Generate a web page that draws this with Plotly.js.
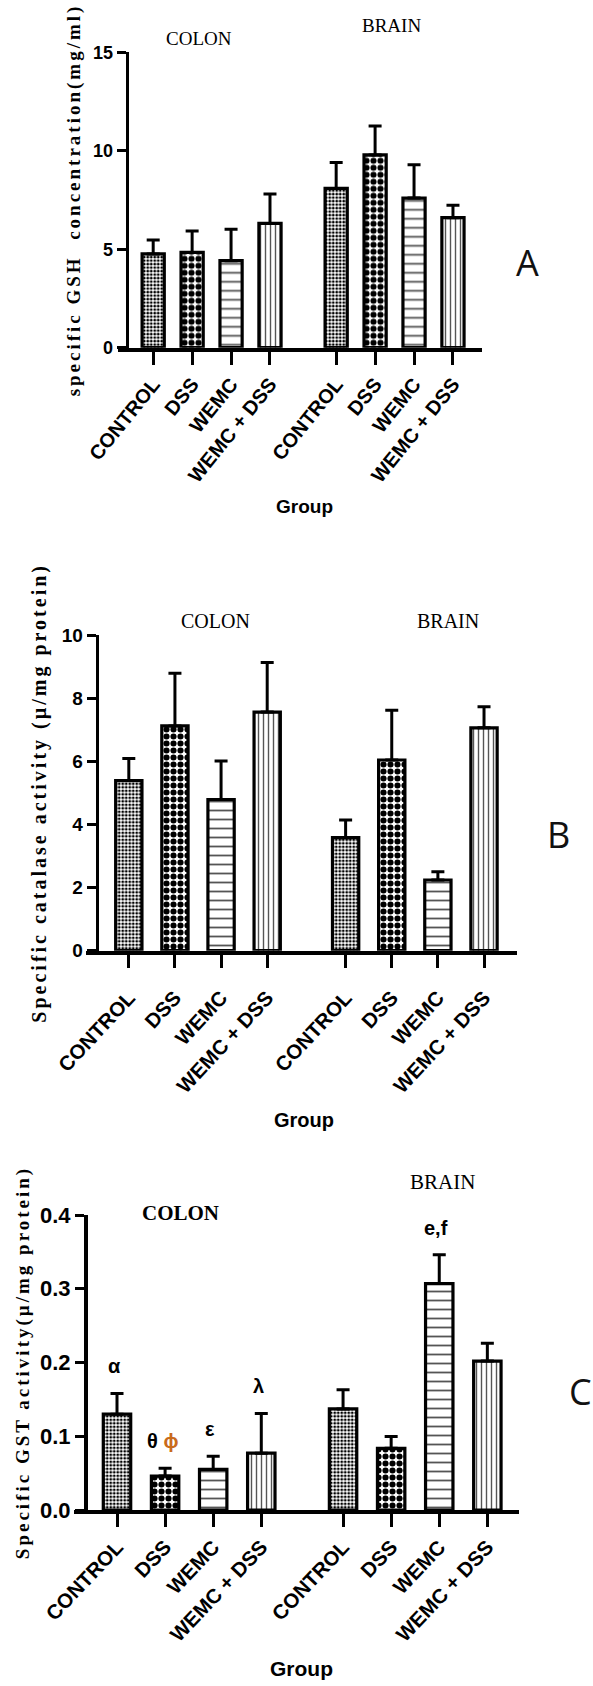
<!DOCTYPE html>
<html><head><meta charset="utf-8">
<script src="https://cdn.plot.ly/plotly-3.0.1.min.js"></script>
<style>
html,body{margin:0;padding:0;background:#fff;}
text.ytitle, text.y2title, text.y3title {letter-spacing:3px;}
</style></head>
<body><div id="chart" style="width:593px;height:1686px;"></div>
<script>
// ---- data ----
const groups = ['CONTROL', 'DSS', 'WEMC', 'WEMC + DSS'];
const tissues = ['COLON', 'BRAIN'];

const gshColon = [4.76, 4.84, 4.42, 6.31];
const gshColonErr = [0.71, 1.09, 1.59, 1.49];
const gshBrain = [8.09, 9.79, 7.60, 6.60];
const gshBrainErr = [1.32, 1.47, 1.69, 0.63];

const catColon = [5.39, 7.12, 4.79, 7.56];
const catColonErr = [0.70, 1.67, 1.22, 1.57];
const catBrain = [3.58, 6.04, 2.24, 7.06];
const catBrainErr = [0.56, 1.58, 0.26, 0.67];

const gstColon = [0.130, 0.046, 0.055, 0.077];
const gstColonErr = [0.028, 0.0105, 0.018, 0.054];
const gstBrain = [0.137, 0.0836, 0.307, 0.202];
const gstBrainErr = [0.026, 0.016, 0.039, 0.024];

const gstColonSig = ['α', 'θ <span style="color:#c96a1b">ϕ</span>', 'ε', 'λ'];
const gstBrainSig = ['', '', 'e,f', ''];

const yTicksA = [0, 5, 10, 15];
const yTicksB = [0, 2, 4, 6, 8, 10];
const yTicksC = [0, 0.1, 0.2, 0.3, 0.4];

const yTitleA = 'specific GSH  concentration(mg/ml)';
const yTitleB = 'Specific catalase activity (µ/mg protein)';
const yTitleC = 'Specific GST activity(µ/mg protein)';
const xTitle = 'Group';
const panelLetters = ['A', 'B', 'C'];

// ---- layout helpers ----
const W = 593, H = 1686;
const GAP = 0.7;
const xpos = groups.map((g, i) => i).concat(groups.map((g, i) => i + groups.length + GAP));
const px = v => v / W;
const py = v => 1 - v / H;

const patShape = ['.', '.', '-', '|'];
const patSize = [3.5, 7, 9, 5];
const patSolid = [0.5, 0.6, 0.2, 0.28];
const patFg = ['#000', '#000', '#555', '#555'];
const rep = a => a.concat(a);

function barTrace(colon, colonErr, brain, brainErr, ax) {
  return {
    type: 'bar',
    x: xpos,
    y: colon.concat(brain),
    width: 0.57,
    xaxis: 'x' + ax, yaxis: 'y' + ax,
    marker: {
      color: '#fff',
      line: {color: '#000', width: 3.2},
      pattern: {shape: rep(patShape), size: rep(patSize), solidity: rep(patSolid),
                fgcolor: rep(patFg), bgcolor: '#fff', fillmode: 'replace'}
    },
    error_y: {type: 'data', symmetric: false, array: colonErr.concat(brainErr),
              arrayminus: xpos.map(() => 0), color: '#000', thickness: 3, width: 6.5},
    hoverinfo: 'none'
  };
}

const data = [
  barTrace(gshColon, gshColonErr, gshBrain, gshBrainErr, ''),
  barTrace(catColon, catColonErr, catBrain, catBrainErr, '2'),
  barTrace(gstColon, gstColonErr, gstBrain, gstBrainErr, '3')
];

const sans = 'Liberation Sans, Arial, sans-serif';
const serif = 'Liberation Serif, Times New Roman, serif';

function xAxis(domain, range, anchor, angle, fs, standoff) {
  return {
    domain: domain, range: range, anchor: anchor,
    tickmode: 'array', tickvals: xpos, ticktext: rep(groups), tickangle: angle,
    tickfont: {family: sans, size: fs, color: '#000', weight: 'bold'},
    ticklabelstandoff: standoff,
    ticks: 'outside', ticklen: 13, tickwidth: 3, tickcolor: '#000',
    showline: true, linewidth: 4, linecolor: '#000',
    showgrid: false, zeroline: false, fixedrange: true
  };
}
function yAxis(domain, range, pos, vals, fmt, fs, title, tfs, standoff) {
  return {
    domain: domain, range: range, anchor: 'free', position: pos,
    tickmode: 'array', tickvals: vals, tickformat: fmt,
    tickfont: {family: sans, size: fs, color: '#000', weight: 'bold'},
    ticks: 'outside', ticklen: 9, tickwidth: 3, tickcolor: '#000',
    showline: true, linewidth: 3.5, linecolor: '#000',
    showgrid: false, zeroline: false, fixedrange: true,
    title: {text: title, standoff: standoff, font: {family: serif, size: tfs, color: '#000', weight: 'bold'}}
  };
}

function label(text, x, y, font) {
  return {text: text, xref: 'paper', yref: 'paper', x: px(x), y: py(y),
          xanchor: 'center', yanchor: 'middle', showarrow: false, font: font};
}
const tissueFont = s => ({family: serif, size: s, color: '#000'});
const groupFont = s => ({family: sans, size: s, color: '#000', weight: 'bold'});
const letterFont = {family: 'Open Sans, Noto Sans, sans-serif', size: 36, color: '#111'};

const annotations = [
  label(tissues[0], 199, 38, tissueFont(19)),
  label(tissues[1], 392, 25, tissueFont(19)),
  label(xTitle, 304, 507, groupFont(19)),
  label(panelLetters[0], 527.5, 262, letterFont),

  label(tissues[0], 215, 621, tissueFont(20)),
  label(tissues[1], 448, 621, tissueFont(20)),
  label(xTitle, 304, 1120, groupFont(20)),
  label(panelLetters[1], 558, 834, letterFont),

  label(tissues[0], 180, 1213, Object.assign(tissueFont(21), {weight: 'bold'})),
  label(tissues[1], 442, 1182, tissueFont(21)),
  label(xTitle, 302, 1668, groupFont(21)),
  label(panelLetters[2], 580, 1391, letterFont)
];

const sig = gstColonSig.concat(gstBrainSig);
const gstTop = gstColon.map((v, i) => v + gstColonErr[i]).concat(gstBrain.map((v, i) => v + gstBrainErr[i]));
sig.forEach((t, i) => {
  if (!t) return;
  annotations.push({text: t, xref: 'x3', yref: 'y3', x: xpos[i], y: gstTop[i],
    xanchor: 'center', yanchor: 'middle', yshift: 27, xshift: -3, showarrow: false,
    font: {family: sans, size: 20, color: '#000', weight: 'bold'}});
});

const layout = {
  width: W, height: H,
  margin: {l: 0, r: 0, t: 0, b: 0},
  paper_bgcolor: '#fff', plot_bgcolor: 'rgba(0,0,0,0)',
  showlegend: false, bargap: 0,
  xaxis: xAxis([px(118), px(481.7)], [-0.904, 8.438], 'y', -51, 20, 0),
  yaxis: yAxis([py(347.7), py(52.3)], [0, 15], px(126.7), yTicksA, 'd', 18, yTitleA, 19, 6),
  xaxis2: xAxis([px(86), px(517)], [-0.928, 8.415], 'y2', -47, 20.5, 10),
  yaxis2: yAxis([py(950.7), py(635)], [0, 10], px(96.7), yTicksB, 'd', 19, yTitleB, 20, 8),
  xaxis3: xAxis([px(74), px(519)], [-0.894, 8.358], 'y3', -46.5, 20.5, 0),
  yaxis3: yAxis([py(1510), py(1215)], [0, 0.4], px(85), yTicksC, '.1f', 22, yTitleC, 19, 4),
  annotations: annotations
};

Plotly.newPlot('chart', data, layout, {displayModeBar: false, staticPlot: true});
</script>
</body></html>
